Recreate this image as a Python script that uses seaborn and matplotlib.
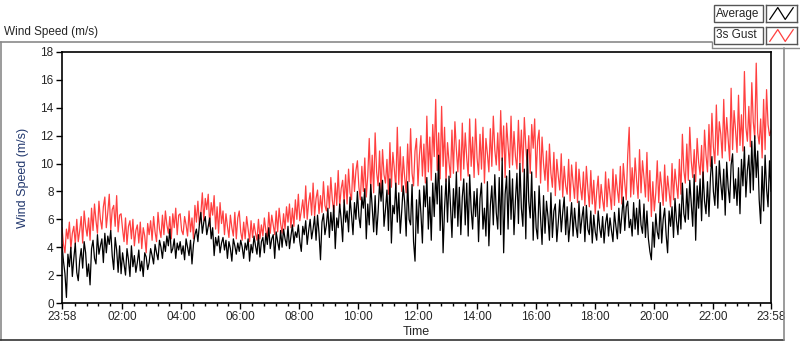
import numpy as np
import pandas as pd
import matplotlib
matplotlib.use("Agg")
import matplotlib.pyplot as plt
import seaborn as sns
from matplotlib.patches import Rectangle

# samples every 3 minutes, starting 23:58 the day before
start_hour = -2 / 60
step_hours = 0.05

average = [
    4.2, 3.0, 2.1, 0.4, 3.5, 2.6, 4.0, 1.9, 3.2, 4.3,
    2.2, 1.6, 3.1, 3.9, 2.5, 4.4, 3.6, 1.9, 2.8, 1.3,
    3.9, 4.5, 3.2, 2.8, 4.9, 3.5, 4.1, 4.6, 2.9, 5.0,
    3.6, 4.8, 4.2, 5.2, 3.4, 2.4, 4.7, 3.8, 2.2, 4.1,
    2.1, 3.6, 2.8, 2.0, 3.9, 3.1, 1.9, 4.1, 2.6, 3.4,
    2.2, 2.9, 3.8, 2.3, 3.0, 1.9, 3.6, 3.3, 2.4, 2.9,
    3.9, 3.4, 2.8, 4.2, 3.6, 3.1, 4.5, 4.0, 3.2, 4.4,
    3.7, 4.8, 4.1, 5.3, 3.6, 3.9, 4.6, 3.2, 4.3, 3.8,
    4.4, 3.5, 4.1, 3.1, 4.6, 4.0, 3.4, 4.5, 2.8, 4.2,
    4.9, 5.3, 4.4, 5.6, 6.5, 5.0, 5.8, 6.2, 4.9, 5.5,
    6.1, 4.6, 5.4, 3.4, 4.7, 4.1, 4.8, 3.6, 4.3, 4.7,
    3.8, 4.5, 3.2, 4.4, 3.9, 3.0, 4.6, 4.1, 3.5, 4.3,
    3.7, 4.5, 4.0, 3.2, 4.3, 3.8, 4.6, 3.0, 4.2, 3.6,
    4.8, 4.1, 3.5, 4.9, 3.3, 4.4, 4.7, 3.6, 5.0, 4.2,
    5.4, 3.9, 4.6, 4.9, 3.2, 5.1, 4.4, 3.8, 5.2, 4.0,
    5.3, 4.6, 4.1, 5.5, 3.9, 4.8, 5.6, 4.3, 5.1, 4.7,
    5.6, 4.4, 3.7, 5.5, 4.9, 5.9, 4.2, 5.2, 6.0, 4.6,
    5.3, 6.2, 4.5, 6.3, 5.0, 3.1, 5.8, 6.4, 4.9, 5.6,
    6.8, 4.7, 6.5, 5.2, 7.0, 3.9, 6.1, 5.4, 7.1, 6.0,
    4.4, 7.4, 5.8, 6.6, 5.1, 7.6, 6.3, 4.9, 7.2, 6.0,
    8.0, 6.2, 5.4, 7.6, 6.8, 8.2, 4.6, 7.1, 5.6, 8.5,
    6.9, 5.1, 7.7, 4.9, 6.5, 8.6, 7.3, 8.8, 5.5, 6.7,
    8.1, 5.2, 8.9, 4.3, 7.0, 6.4, 8.6, 5.8, 7.9, 5.0,
    6.6, 8.4, 7.2, 4.8, 8.7, 6.0, 5.6, 8.5, 4.4, 3.0,
    7.4, 5.0, 8.1, 6.4, 4.3, 8.4, 6.9, 9.0, 5.3, 7.6,
    4.5, 8.6, 6.2, 9.3, 7.1, 10.6, 5.2, 8.4, 3.6, 6.8,
    8.9, 5.8, 9.1, 7.0, 4.7, 8.2, 6.1, 9.4, 5.5, 8.3,
    4.9, 7.6, 8.9, 5.6, 8.6, 4.8, 9.2, 6.7, 5.3, 8.0,
    6.2, 8.2, 4.4, 7.5, 8.6, 5.3, 6.8, 4.8, 8.7, 4.1,
    7.0, 8.4, 5.6, 9.2, 6.5, 5.3, 9.0, 4.9, 10.4, 3.6,
    7.8, 9.1, 5.3, 9.5, 6.0, 8.9, 4.9, 7.4, 9.3, 5.7,
    10.0, 6.8, 5.5, 9.6, 4.6, 11.0, 7.3, 6.1, 9.4, 4.5,
    8.0, 5.4, 4.6, 8.4, 6.1, 4.2, 7.7, 5.0, 7.3, 6.2,
    4.5, 7.9, 4.7, 6.6, 7.1, 4.4, 5.8, 7.4, 5.1, 6.5,
    7.6, 4.9, 6.9, 4.4, 5.7, 7.2, 4.8, 6.8, 5.5, 4.7,
    7.3, 5.0, 6.1, 6.9, 4.4, 7.0, 5.3, 4.9, 6.6, 4.3,
    6.3, 5.1, 4.5, 6.6, 5.4, 4.7, 6.2, 4.3, 5.7, 6.4,
    4.8, 6.1, 5.2, 4.4, 6.5, 5.5, 4.6, 6.8, 5.0, 6.3,
    7.6, 5.2, 6.9, 7.3, 5.4, 6.0, 4.8, 7.2, 5.3, 6.8,
    4.9, 7.4, 5.6, 5.0, 7.1, 4.7, 6.6, 4.6, 3.7, 3.1,
    5.8, 4.0, 6.4, 5.1, 4.6, 7.2, 4.3, 6.0, 6.8, 4.9,
    3.6, 6.6, 5.5, 6.9, 4.7, 7.5, 5.9, 4.9, 7.1, 5.3,
    8.6, 6.4, 5.8, 8.2, 6.0, 8.8, 7.1, 5.5, 9.2, 4.5,
    8.4, 6.8, 8.9, 5.9, 9.4, 7.3, 6.4, 8.7, 6.2, 9.0,
    10.5, 8.0, 7.0, 9.8, 6.8, 10.2, 8.6, 7.4, 9.6, 6.3,
    10.1, 8.3, 7.2, 9.9, 10.7, 7.5, 8.9, 7.0, 9.7, 6.4,
    10.3, 8.4, 11.2, 7.6, 9.5, 10.6, 7.9, 11.6, 8.1, 12.0,
    9.0, 10.9, 7.4, 5.7, 9.8, 6.6, 10.6, 8.2, 6.9, 10.2,
    8.0,
]

gust = [
    5.4, 4.2, 3.6, 5.3, 4.6, 5.8, 3.9, 5.0, 5.5, 4.2,
    6.0, 4.4, 5.2, 6.2, 4.3, 6.6, 5.5, 4.8, 6.1, 4.5,
    6.8, 5.2, 7.1, 5.9, 5.0, 7.3, 6.0, 5.3, 6.9, 7.6,
    5.4, 6.5, 7.8, 5.2, 6.7, 7.0, 5.5, 7.7, 5.1, 6.3,
    6.4, 5.3, 4.4, 6.1, 4.2, 5.5, 5.9, 4.6, 6.0, 4.1,
    5.2, 5.6, 4.3, 5.8, 3.9, 5.4, 4.8, 3.6, 5.7, 4.9,
    5.9, 4.5, 6.2, 5.1, 4.4, 6.5, 5.3, 4.7, 6.3, 4.9,
    6.6, 5.6, 5.0, 6.2, 4.6, 6.4, 5.4, 6.8, 4.9, 6.3,
    6.4, 5.2, 4.9, 6.2, 5.6, 4.8, 6.6, 5.1, 6.1, 4.6,
    7.0, 5.8, 7.3, 5.6, 6.4, 7.9, 5.9, 7.5, 6.7, 7.8,
    5.5, 7.2, 6.3, 7.7, 5.3, 6.9, 5.0, 7.2, 5.7, 6.6,
    4.9, 6.4, 5.5, 4.7, 6.3, 5.4, 4.8, 6.5, 4.6, 6.1,
    6.6, 5.1, 4.5, 5.8, 4.6, 6.2, 5.3, 4.4, 5.9, 4.7,
    5.7, 5.0, 4.5, 6.0, 4.6, 5.6, 4.8, 6.1, 5.2, 4.7,
    6.5, 5.0, 6.3, 5.6, 4.9, 6.6, 5.1, 6.8, 5.7, 5.0,
    6.4, 5.3, 6.9, 5.8, 7.1, 5.4, 6.8, 5.5, 7.4, 6.0,
    7.8, 5.9, 6.6, 7.4, 6.1, 8.4, 6.0, 7.2, 7.9, 6.3,
    8.6, 6.2, 7.5, 8.1, 6.4, 7.7, 6.5, 8.7, 7.0, 6.6,
    8.4, 6.8, 9.0, 7.4, 6.5, 8.6, 7.0, 9.5, 6.9, 8.2,
    8.8, 7.2, 9.2, 7.1, 9.6, 7.9, 7.4, 10.0, 8.0, 9.5,
    10.2, 8.3, 7.4, 9.8, 8.0, 10.4, 7.6, 9.1, 11.8, 8.1,
    10.6, 7.9, 12.2, 9.4, 8.4, 10.9, 8.0, 11.0, 9.2, 8.6,
    10.3, 7.8, 11.5, 8.3, 10.8, 9.6, 8.2, 12.6, 8.5, 11.2,
    8.0, 10.5, 9.0, 7.9, 11.4, 8.7, 12.5, 9.3, 8.4, 10.9,
    11.8, 8.4, 10.6, 12.0, 9.1, 11.4, 8.6, 13.4, 9.4, 11.9,
    8.8, 12.8, 10.5, 14.6, 9.5, 12.2, 8.9, 14.1, 9.8, 12.6,
    8.7, 11.5, 10.1, 9.0, 12.4, 9.3, 13.0, 11.0, 9.4, 11.7,
    8.8, 12.9, 9.6, 12.2, 10.4, 9.1, 13.2, 9.8, 11.9, 9.0,
    13.2, 10.4, 9.2, 12.1, 9.6, 12.6, 8.6, 11.8, 10.7, 9.4,
    12.5, 9.8, 13.4, 11.0, 9.9, 12.2, 9.5, 13.8, 10.2, 12.7,
    9.0, 12.9, 11.3, 9.7, 13.4, 9.9, 12.3, 10.5, 9.6, 13.1,
    10.0, 12.4, 9.4, 13.3, 11.2, 9.8, 12.0, 9.3, 12.8, 11.1,
    13.2, 9.0, 11.6, 12.4, 8.6, 11.9, 10.0, 8.8, 10.9, 8.0,
    11.4, 9.3, 8.3, 10.8, 7.7, 10.3, 9.1, 8.1, 10.7, 7.6,
    9.8, 8.4, 7.8, 10.3, 7.3, 9.9, 8.6, 7.5, 10.1, 7.2,
    9.6, 8.3, 7.4, 9.4, 7.0, 9.8, 8.2, 6.9, 9.5, 7.1,
    8.8, 6.4, 8.0, 9.1, 6.8, 8.5, 7.4, 6.6, 9.4, 6.9,
    8.9, 7.8, 6.7, 9.6, 7.0, 9.2, 8.1, 7.2, 9.8, 7.1,
    10.0, 8.6, 7.4, 10.6, 12.6, 7.6, 9.7, 7.8, 10.4, 8.8,
    7.5, 11.0, 7.9, 10.2, 9.0, 7.6, 10.8, 7.3, 9.5, 6.2,
    8.7, 6.6, 7.9, 10.2, 7.2, 9.4, 8.3, 7.0, 9.9, 7.3,
    9.1, 8.0, 6.9, 10.0, 7.4, 9.6, 8.5, 7.5, 10.3, 7.8,
    12.1, 9.5, 8.6, 11.4, 8.8, 12.6, 10.2, 9.0, 11.0, 8.7,
    11.8, 10.1, 9.2, 11.3, 8.5, 12.4, 10.6, 9.4, 12.8, 9.8,
    13.6, 11.2, 10.0, 14.2, 10.6, 13.0, 12.1, 10.4, 14.6, 10.9,
    13.3, 11.8, 10.2, 15.4, 11.0, 13.8, 12.4, 10.8, 14.9, 11.3,
    13.5, 10.9, 16.6, 12.6, 11.6, 14.1, 11.2, 15.8, 13.0, 11.8,
    17.2, 12.2, 11.4, 13.2, 10.4, 14.6, 11.0, 15.3, 12.8, 12.0,
    12.4,
]

tick_hours = [start_hour, 2, 4, 6, 8, 10, 12, 14, 16, 18, 20, 22, start_hour + 24]
tick_labels = ["23:58", "02:00", "04:00", "06:00", "08:00", "10:00", "12:00",
               "14:00", "16:00", "18:00", "20:00", "22:00", "23:58"]

avg_hours = start_hour + step_hours * np.arange(len(average))
gust_hours = start_hour + step_hours * np.arange(len(gust))
df = pd.DataFrame({
    "hour": np.concatenate([avg_hours, gust_hours]),
    "speed": average + gust,
    "series": ["Average"] * len(average) + ["3s Gust"] * len(gust),
})

sns.set_style("white")
plt.rcParams["font.family"] = ["Liberation Sans", "DejaVu Sans"]

fig = plt.figure(figsize=(8, 3.42), dpi=100)
ax = fig.add_axes([62 / 800, 1 - 303 / 342, 709 / 800, 251 / 342])

sns.lineplot(data=df, x="hour", y="speed", hue="series",
             palette={"Average": "black", "3s Gust": "#ff4040"},
             hue_order=["3s Gust", "Average"], linewidth=0.9,
             legend=False, ax=ax)

ax.set_xlim(start_hour, start_hour + 24)
ax.set_ylim(0, 18)
ax.set_yticks(range(0, 19, 2))
ax.set_xticks(tick_hours)
ax.set_xticklabels(tick_labels)
ax.set_xticks([h for h in np.arange(0.4, 24, 0.4) if abs(h / 2 - round(h / 2)) > 0.05], minor=True)
ax.tick_params(axis="both", which="major", direction="out", length=4, width=1,
               color="black", labelsize=8.5, pad=2, bottom=True, left=True)
ax.tick_params(axis="x", which="minor", direction="out", length=2, width=1,
               color="black", bottom=True)
for s in ax.spines.values():
    s.set_color("black")
    s.set_linewidth(1.2)

ax.set_xlabel("Time", fontsize=9, labelpad=2)
ax.set_ylabel("Wind Speed (m/s)", fontsize=9, color="#22386e", labelpad=8)

# outer control frame
frame_color = "#8a8a8a"
fig.add_artist(plt.Line2D([0, 712 / 800], [1 - 42 / 342] * 2, color=frame_color, lw=1.2))
fig.add_artist(plt.Line2D([1 / 800] * 2, [1 - 42 / 342, 1 - 340 / 342], color=frame_color, lw=1.2))
fig.add_artist(plt.Line2D([0, 784 / 800], [1 - 340 / 342] * 2, color="#333333", lw=1.2))
fig.add_artist(plt.Line2D([784 / 800] * 2, [1 - 48 / 342, 1 - 340 / 342], color=frame_color, lw=1.2))
fig.add_artist(plt.Line2D([712 / 800, 800 / 800], [1 - 48 / 342] * 2, color=frame_color, lw=1.0))
fig.add_artist(plt.Line2D([712 / 800] * 2, [1 - 42 / 342, 1 - 48 / 342], color=frame_color, lw=1.0))

fig.text(4 / 800, 1 - 32 / 342, "Wind Speed (m/s)", fontsize=8.5, ha="left", va="center")

# legend: label boxes and line icons
legend_rows = [("Average", "black", 5), ("3s Gust", "#ff4040", 27)]
for label, color, top in legend_rows:
    fig.add_artist(Rectangle((714 / 800, 1 - (top + 17) / 342), 49 / 800, 17 / 342,
                             fill=False, ec="#555555", lw=1.0))
    fig.text(716 / 800, 1 - (top + 8.5) / 342, label, fontsize=8.5, ha="left", va="center")
    icon = fig.add_axes([766 / 800, 1 - (top + 17) / 342, 31 / 800, 17 / 342])
    icon.plot([0.12, 0.38, 0.62, 0.88], [0.15, 0.85, 0.15, 0.85], color=color, lw=0.9)
    icon.set_xlim(0, 1)
    icon.set_ylim(0, 1)
    icon.set_xticks([])
    icon.set_yticks([])
    for s in icon.spines.values():
        s.set_color("#555555")
        s.set_linewidth(1.0)

fig.savefig("out.png", dpi=100)
